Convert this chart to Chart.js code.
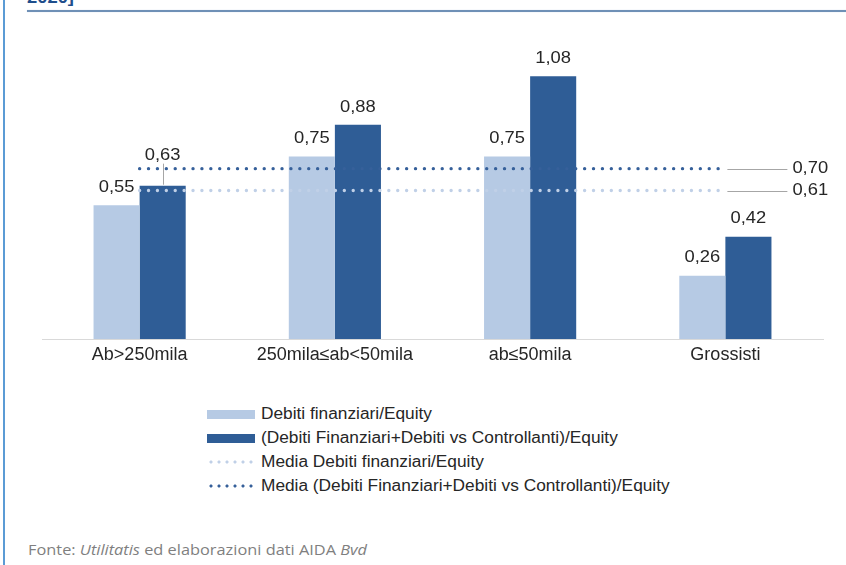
<!DOCTYPE html>
<html>
<head>
<meta charset="utf-8">
<script src="https://cdn.jsdelivr.net/npm/chart.js@4/dist/chart.umd.min.js"></script>
<style>
  html, body { margin: 0; padding: 0; background: #ffffff; }
  body { width: 846px; height: 565px; position: relative; overflow: hidden; font-family: "Liberation Sans", Arial, sans-serif; }
  #leftbar { position: absolute; left: 3px; top: 0; width: 2px; height: 565px; background: #5b9bd5; }
  #title { position: absolute; left: 27px; top: -12px; font: bold 17px "Liberation Sans", Arial, sans-serif; color: #1f4e8c; white-space: nowrap; transform: scaleX(1.08); transform-origin: left top; }
  #rule { position: absolute; left: 27px; top: 10px; width: 819px; height: 2px; background: #6f90b6; box-shadow: 0 0 1px #a9c0da; }
  #wrap { position: absolute; left: 0; top: 0; width: 846px; height: 370px; }
  #legend { position: absolute; left: 207px; top: 402px; }
  .li { height: 24px; display: flex; align-items: center; font-size: 16px; color: #262626; white-space: nowrap; }
  .sw { width: 48px; margin-right: 6px; flex: none; }
  .lt { display: inline-block; transform: scaleX(1.08); transform-origin: left center; }
  #source { position: absolute; left: 28px; top: 539px; font: 15px "Open Sans", sans-serif; color: #7f7f7f; white-space: nowrap; transform: scaleX(1.09); transform-origin: left top; }
</style>
</head>
<body>
<div id="leftbar"></div>
<div id="title">2020]</div>
<div id="rule"></div>
<div id="wrap"><canvas id="c" width="846" height="370"></canvas></div>
<div id="legend"></div>
<div id="source">Fonte: <i>Utilitatis</i> ed elaborazioni dati AIDA <i>Bvd</i></div>
<script>
// ---- data ----
const categories = ['Ab>250mila', '250mila\u2264ab<50mila', 'ab\u226450mila', 'Grossisti'];
const debitiFinanziariEquity = [0.55, 0.75, 0.75, 0.26];
const debitiTotaliEquity = [0.63, 0.88, 1.08, 0.42];
const mediaDebitiFinanziari = 0.61;
const mediaDebitiTotali = 0.70;
const seriesNames = [
  'Debiti finanziari/Equity',
  '(Debiti Finanziari+Debiti vs Controllanti)/Equity',
  'Media Debiti finanziari/Equity',
  'Media (Debiti Finanziari+Debiti vs Controllanti)/Equity'
];

const LIGHT = '#b6cae4';
const DARK = '#2f5d96';
const LIGHT_DOT = '#c0d0e7';
const DARK_DOT = '#36609a';
const TEXT = '#262626';
const FONT = '"Liberation Sans", Arial, sans-serif';
const fmt = v => v.toFixed(2).replace('.', ',');

function stretchedText(ctx, txt, x, y, align) {
  const s = 1.08;
  const w = ctx.measureText(txt).width * s;
  let left = x;
  if (align === 'center') left = x - w / 2;
  ctx.save();
  ctx.translate(left, y);
  ctx.scale(s, 1);
  ctx.textAlign = 'left';
  ctx.fillText(txt, 0, 0);
  ctx.restore();
}

const labelsPlugin = {
  id: 'valueLabels',
  afterDatasetsDraw(chart) {
    const ctx = chart.ctx;
    ctx.save();
    ctx.font = '17px ' + FONT;
    ctx.fillStyle = TEXT;
    ctx.textBaseline = 'middle';
    const lines = [];
    chart.data.datasets.forEach((ds, i) => {
      if (ds.type !== 'line') return;
      const pts = chart.getDatasetMeta(i).data;
      lines.push({ y: pts[0].y, x0: pts[0].x, x1: pts[pts.length - 1].x, v: ds.data[0] });
    });
    chart.data.datasets.forEach((ds, i) => {
      if (ds.type === 'line') return;
      const meta = chart.getDatasetMeta(i);
      meta.data.forEach((el, j) => {
        const txt = fmt(ds.data[j]);
        const w = ctx.measureText(txt).width * 1.08;
        let ly = el.y - 18;
        const hits = lines.filter(l => l.y > ly - 9 && l.y < ly + 9 && el.x + w / 2 > l.x0 && el.x - w / 2 < l.x1);
        if (hits.length) {
          const minY = Math.min(...hits.map(h => h.y));
          ly = minY - 13;
          ctx.strokeStyle = '#a6a6a6';
          ctx.lineWidth = 1;
          ctx.beginPath();
          ctx.moveTo(Math.round(el.x) + 0.5, ly + 8);
          ctx.lineTo(Math.round(el.x) + 0.5, el.y - 1);
          ctx.stroke();
        }
        stretchedText(ctx, txt, el.x, ly, 'center');
      });
    });
    lines.forEach(l => {
      ctx.strokeStyle = '#a6a6a6';
      ctx.lineWidth = 1;
      ctx.beginPath();
      ctx.moveTo(l.x1 + 2, Math.round(l.y) + 0.5);
      ctx.lineTo(l.x1 + 62, Math.round(l.y) + 0.5);
      ctx.stroke();
      stretchedText(ctx, fmt(l.v), l.x1 + 67, l.y, 'left');
    });
    ctx.restore();
  }
};

const chart = new Chart(document.getElementById('c'), {
  type: 'bar',
  data: {
    labels: categories,
    datasets: [
      { label: seriesNames[0], data: debitiFinanziariEquity, backgroundColor: LIGHT, order: 2,
        categoryPercentage: 0.472, barPercentage: 1.0 },
      { label: seriesNames[1], data: debitiTotaliEquity, backgroundColor: DARK, order: 2,
        categoryPercentage: 0.472, barPercentage: 1.0 },
      { type: 'line', label: seriesNames[2], data: categories.map(() => mediaDebitiFinanziari),
        borderColor: LIGHT_DOT, borderWidth: 3.4, borderDash: [0, 8.9], borderCapStyle: 'round',
        pointRadius: 0, fill: false, order: 1 },
      { type: 'line', label: seriesNames[3], data: categories.map(() => mediaDebitiTotali),
        borderColor: DARK_DOT, borderWidth: 3.4, borderDash: [0, 8.9], borderCapStyle: 'round',
        pointRadius: 0, fill: false, order: 0 }
    ]
  },
  options: {
    responsive: false,
    devicePixelRatio: 1,
    animation: false,
    layout: { padding: { left: 42, right: 23, top: 47, bottom: 0 } },
    plugins: { legend: { display: false }, tooltip: { enabled: false } },
    scales: {
      x: {
        offset: true,
        grid: { display: false, drawTicks: false },
        border: { display: true, color: '#d9d9d9', width: 1 },
        ticks: { color: TEXT, font: { family: FONT, size: 18 }, padding: 5, maxRotation: 0 },
        afterFit(s) { s.height = 31; }
      },
      y: { display: false, min: 0, max: 1.2 }
    }
  },
  plugins: [labelsPlugin]
});

// HTML legend built from datasets
const legend = document.getElementById('legend');
chart.data.datasets.forEach(ds => {
  const row = document.createElement('div');
  row.className = 'li';
  const sw = document.createElement('span');
  sw.className = 'sw';
  if (ds.type === 'line') {
    sw.style.height = '4px';
    sw.style.backgroundImage = 'radial-gradient(circle, ' + ds.borderColor + ' 1.3px, transparent 1.8px)';
    sw.style.backgroundSize = '8px 4px';
  } else {
    sw.style.height = '9px';
    sw.style.background = ds.backgroundColor;
  }
  const t = document.createElement('span');
  t.className = 'lt';
  t.textContent = ds.label;
  row.appendChild(sw);
  row.appendChild(t);
  legend.appendChild(row);
});
</script>
</body>
</html>
